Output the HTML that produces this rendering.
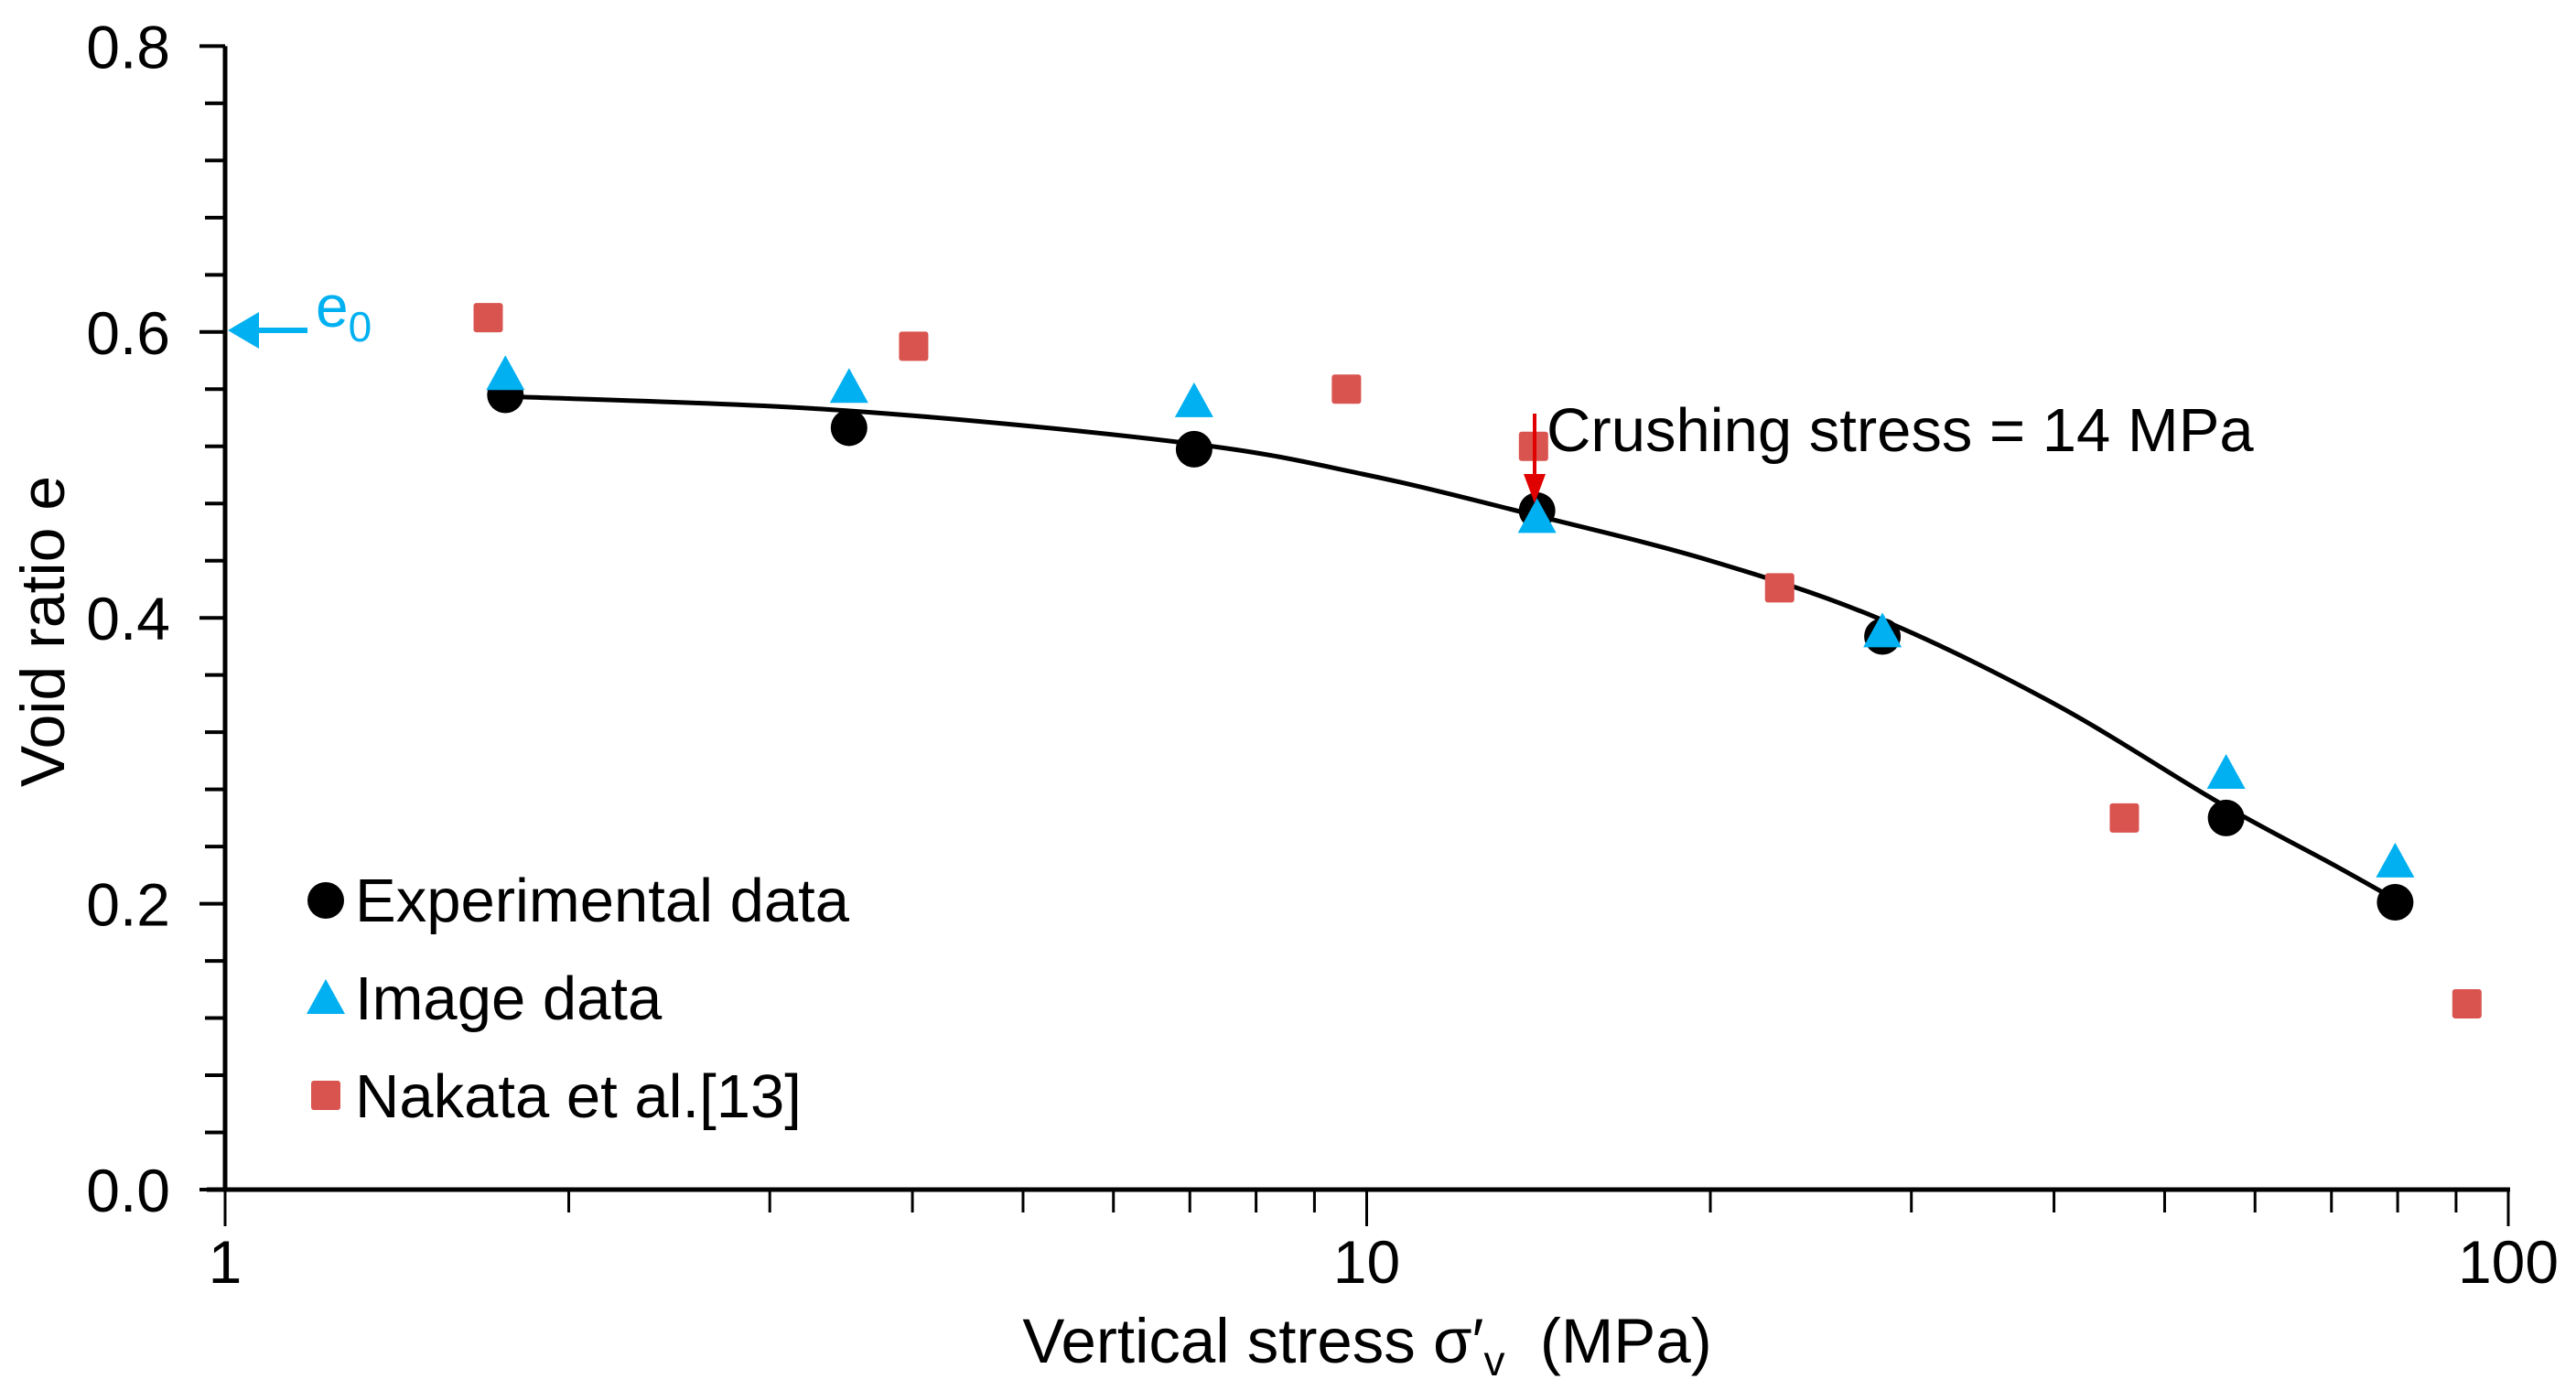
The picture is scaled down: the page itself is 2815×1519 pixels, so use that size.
<!DOCTYPE html>
<html><head><meta charset="utf-8"><style>
html,body{margin:0;padding:0;background:#fff;}
svg{display:block;font-family:"Liberation Sans",Arial,sans-serif;}
</style></head><body>
<svg id="chart" width="2815" height="1519" viewBox="0 0 2815 1519" xmlns="http://www.w3.org/2000/svg">
<g id="axes"></g>
<g id="marks"></g>
<g>
  <line x1="336" y1="361" x2="268" y2="361" stroke="#00b0f0" stroke-width="6"/>
  <polygon points="249,361 283,341 283,381" fill="#00b0f0"/>
  <text x="345" y="357" font-size="64" fill="#00b0f0">e<tspan font-size="46" dy="16">0</tspan></text>
</g>
<g>
  <line x1="1677" y1="452" x2="1677" y2="520" stroke="#e00000" stroke-width="4"/>
  <polygon points="1665,518 1689,518 1677,550" fill="#e00000"/>
  <text x="1690" y="493" font-size="67" fill="#000">Crushing stress = 14 MPa</text>
</g>
<g>
  <g>
    <circle cx="356" cy="984" r="20" fill="#000"/>
    <text x="388" y="1007" font-size="67">Experimental data</text>
  </g>
  <g>
    <polygon points="356,1070 377,1108 335,1108" fill="#00b0f0"/>
    <text x="388" y="1114" font-size="67">Image data</text>
  </g>
  <g>
    <rect x="340" y="1181" width="32" height="32" rx="3" fill="#d9534f"/>
    <text x="388" y="1221" font-size="67">Nakata et al.[13]</text>
  </g>
</g>
<text transform="translate(70,690) rotate(-90)" text-anchor="middle" font-size="68">Void ratio e</text>
<text x="1494" y="1489" text-anchor="middle" font-size="69" xml:space="preserve">Vertical stress σ′<tspan font-size="46" dy="14">v</tspan><tspan dy="-14">  (MPa)</tspan></text>
</svg>
<script>
const expX=[1.76,3.52,7.06,14.1,28.3,56.6,79.6];
const expY=[0.556,0.533,0.518,0.475,0.387,0.26,0.201];
const imgX=[1.76,3.52,7.06,14.1,28.3,56.6,79.6];
const imgY=[0.569,0.56,0.55,0.469,0.389,0.29,0.228];
const nakX=[1.70,4.01,9.6,14.0,23.0,46.1,92.0];
const nakY=[0.610,0.590,0.560,0.520,0.421,0.260,0.130];
const fitX=[1.76,3.5,7,10,14,20,28,40,56,70,79.6];
const fitY=[0.555,0.545,0.522,0.50,0.472,0.44,0.40,0.34,0.270,0.228,0.203];
const yTicks=["0.0","0.2","0.4","0.6","0.8"];
const xTicks=["1","10","100"];
const X0=246,DEC=1247.5,Y0=1300,YS=1562;
function sx(v){return X0+Math.log10(v)*DEC;}
function sy(v){return Y0-v*YS;}
const NS="http://www.w3.org/2000/svg";
function mk(tag,attrs,parent){const e=document.createElementNS(NS,tag);for(const k in attrs)e.setAttribute(k,attrs[k]);parent.appendChild(e);return e;}
const ax=document.getElementById('axes'),mg=document.getElementById('marks');
let l=mk('line',{x1:X0,y1:sy(0.8),x2:X0,y2:Y0+2,stroke:'#000','stroke-width':5},ax);


l=mk('line',{x1:X0-20,y1:Y0,x2:sx(100)+2,y2:Y0,stroke:'#000','stroke-width':5},ax);


for(let i=0;i<=20;i++){const v=i*0.04;const major=i%5===0;
 mk('line',{x1:X0-(major?28:22),y1:sy(v),x2:X0,y2:sy(v),stroke:'#000','stroke-width':4},ax);}
yTicks.forEach(t=>{const e=mk('text',{x:186,y:sy(+t)+24,'text-anchor':'end','font-size':66},ax);e.textContent=t;
 
 });
for(let d=0;d<2;d++)for(let k=1;k<=10;k++){const v=k*Math.pow(10,d);const major=(k===1||k===10);
 mk('line',{x1:sx(v),y1:Y0,x2:sx(v),y2:Y0+(major?40:25),stroke:'#000','stroke-width':3},ax);}
xTicks.forEach(t=>{const e=mk('text',{x:sx(+t),y:1402,'text-anchor':'middle','font-size':66},ax);e.textContent=t;
 
 });
const pts=fitX.map((x,i)=>[sx(x),sy(fitY[i])]);
let d='M'+pts[0][0]+','+pts[0][1];
for(let i=0;i<pts.length-1;i++){const p0=pts[i-1]||pts[i],p1=pts[i],p2=pts[i+1],p3=pts[i+2]||p2;
 d+=' C'+(p1[0]+(p2[0]-p0[0])/6)+','+(p1[1]+(p2[1]-p0[1])/6)+' '+(p2[0]-(p3[0]-p1[0])/6)+','+(p2[1]-(p3[1]-p1[1])/6)+' '+p2[0]+','+p2[1];}
const c=mk('path',{d:d,fill:'none',stroke:'#000','stroke-width':5},mg);


nakX.forEach((x,i)=>{const r=mk('rect',{x:sx(x)-16,y:sy(nakY[i])-16,width:32,height:32,rx:3,fill:'#d9534f'},mg);
 
 });
expX.forEach((x,i)=>{const r=mk('circle',{cx:sx(x),cy:sy(expY[i]),r:20,fill:'#000'},mg);
 
 });
imgX.forEach((x,i)=>{const cx=sx(x),cy=sy(imgY[i]);
 const r=mk('polygon',{points:(cx)+','+(cy-23)+' '+(cx+21)+','+(cy+15)+' '+(cx-21)+','+(cy+15),fill:'#00b0f0'},mg);
 
 });
</script>
</body></html>
